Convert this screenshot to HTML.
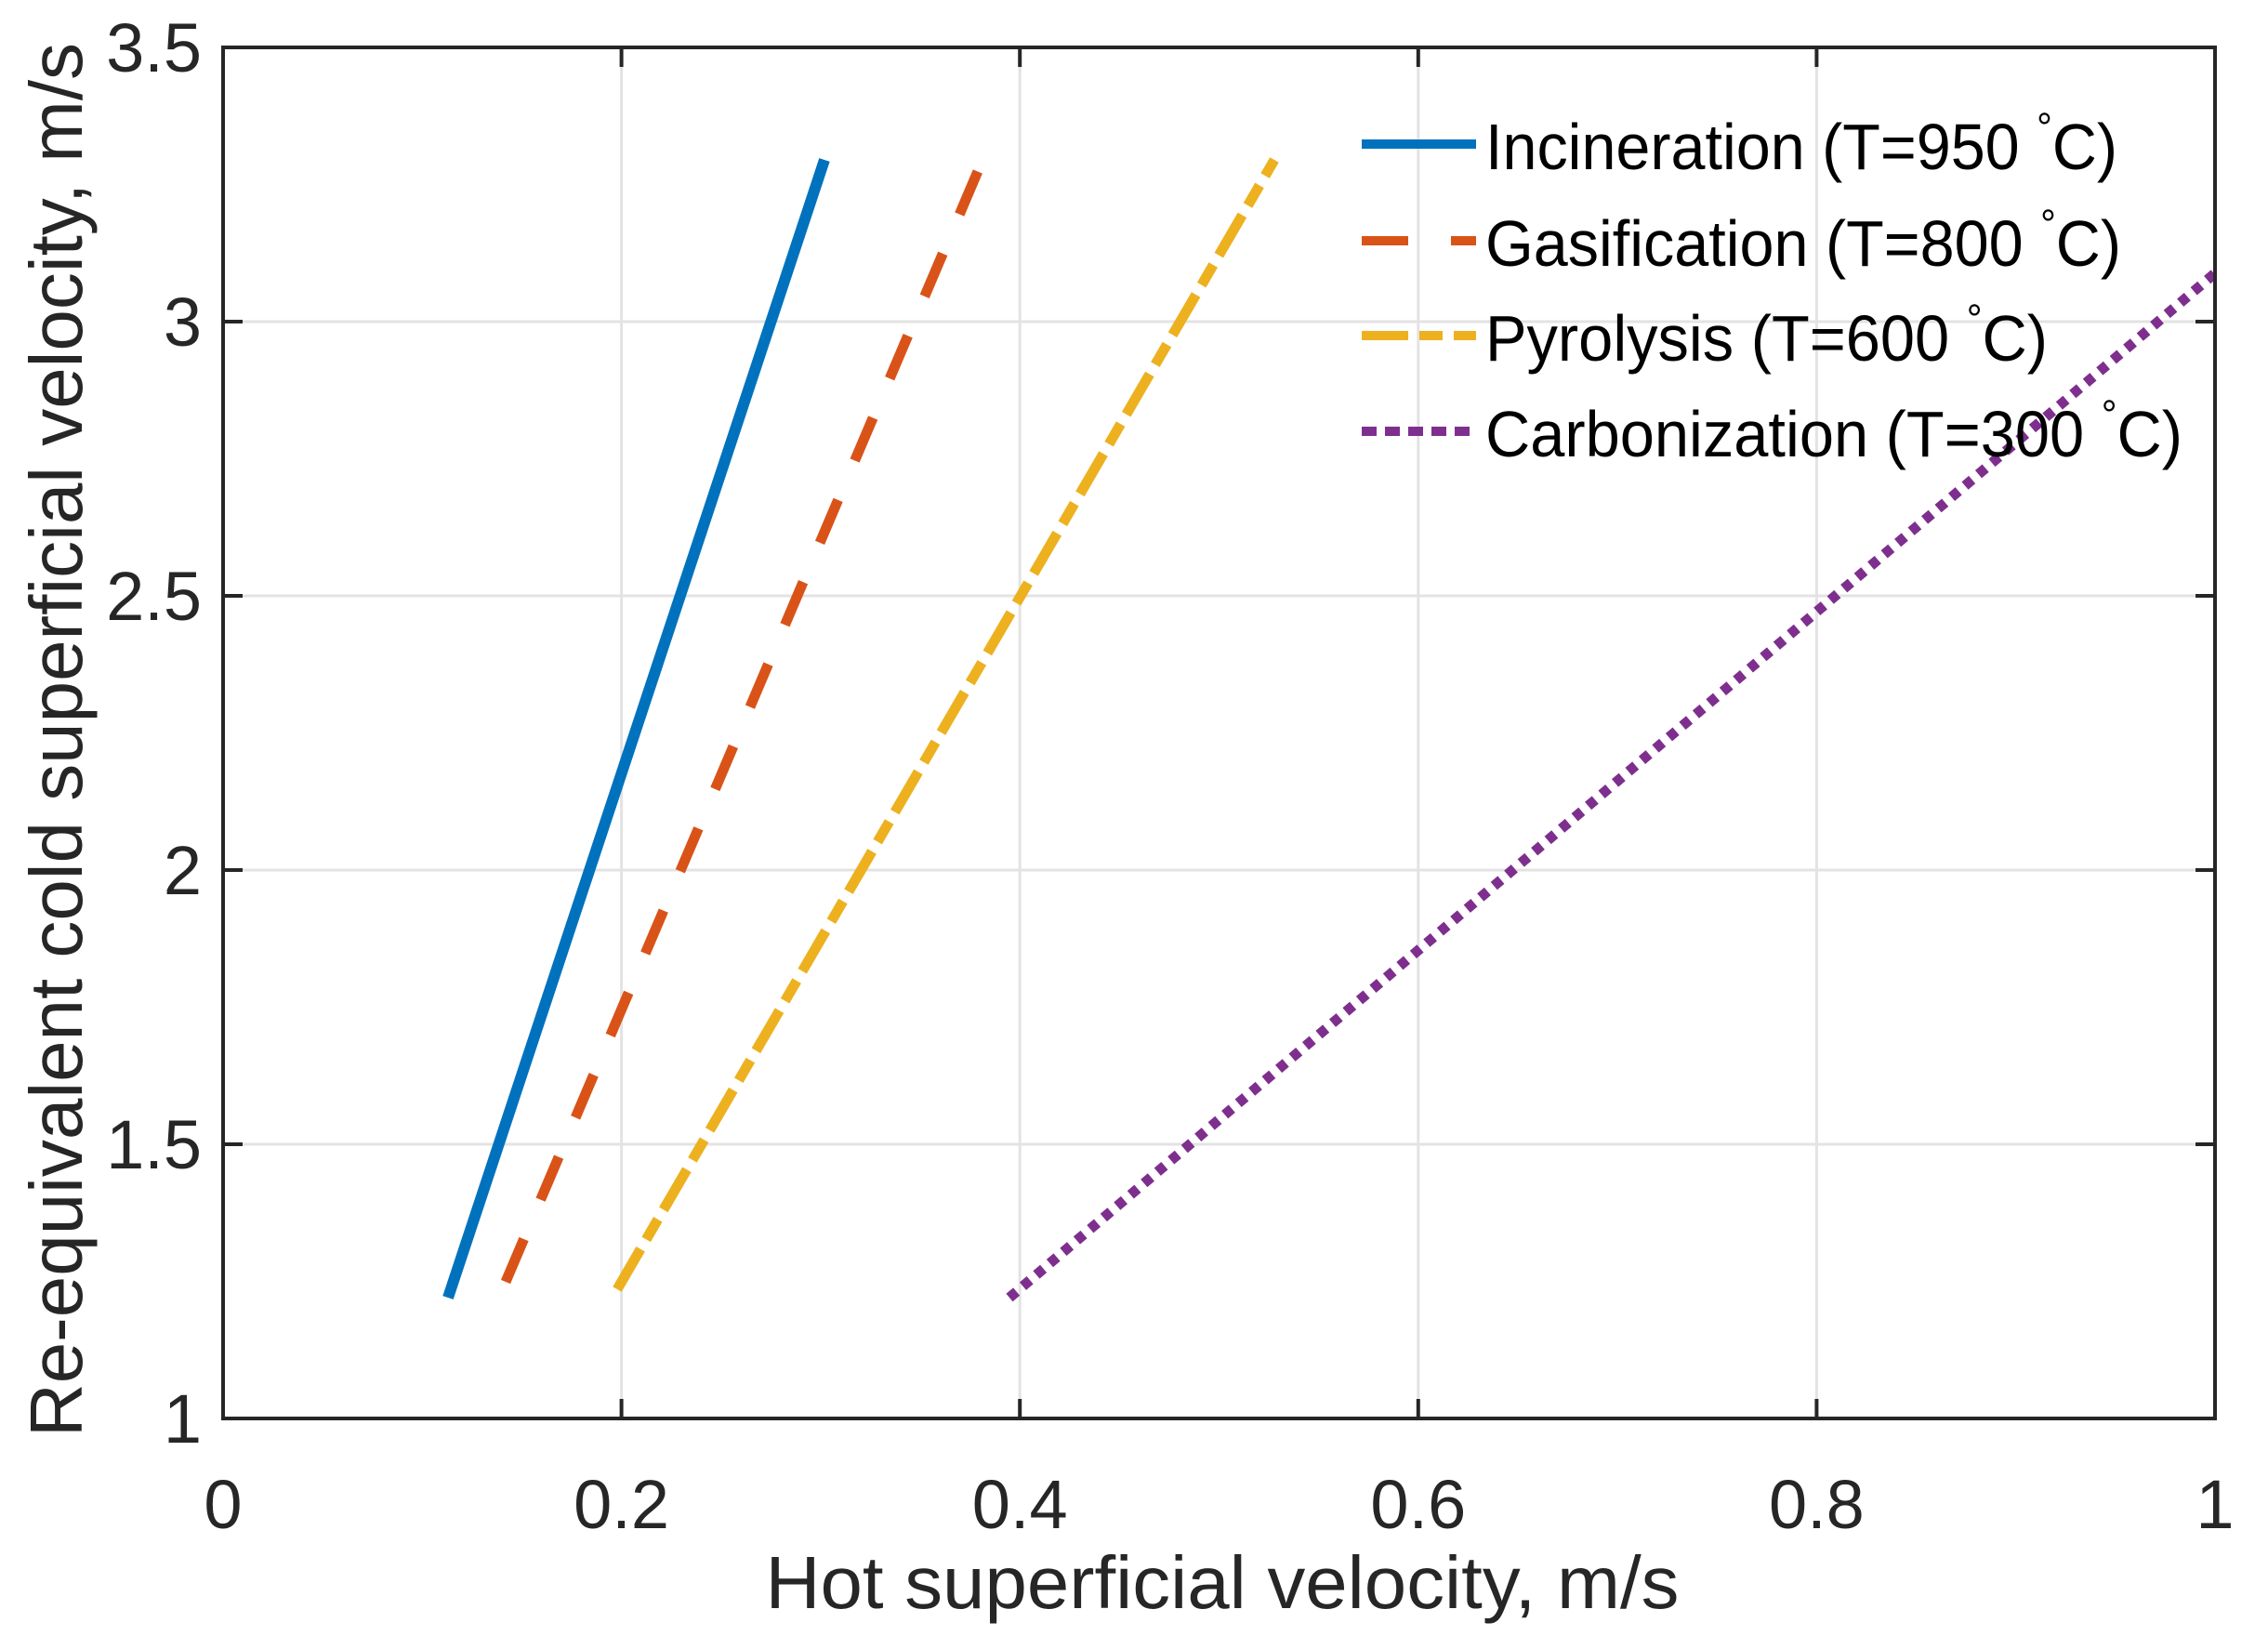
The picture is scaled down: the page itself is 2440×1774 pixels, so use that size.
<!DOCTYPE html>
<html><head><meta charset="utf-8"><style>body{margin:0;background:#fff}svg{display:block}</style></head><body>
<svg width="2440" height="1774" xmlns="http://www.w3.org/2000/svg" font-family="Liberation Sans, sans-serif">
<rect width="2440" height="1774" fill="#fff"/>
<defs><clipPath id="c"><rect x="240" y="51" width="2143" height="1475"/></clipPath></defs>
<g stroke="#e3e3e3" stroke-width="3">
<line x1="668.6" y1="51" x2="668.6" y2="1526"/><line x1="1097.2" y1="51" x2="1097.2" y2="1526"/><line x1="1525.8" y1="51" x2="1525.8" y2="1526"/><line x1="1954.4" y1="51" x2="1954.4" y2="1526"/>
<line x1="240" y1="1231" x2="2383" y2="1231"/><line x1="240" y1="936" x2="2383" y2="936"/><line x1="240" y1="641" x2="2383" y2="641"/><line x1="240" y1="346" x2="2383" y2="346"/>
</g>
<g clip-path="url(#c)" fill="none" stroke-width="11">
<line x1="482" y1="1396" x2="887" y2="172" stroke="#0072BD" stroke-width="12"/>
<line x1="544" y1="1379" x2="1058" y2="170" stroke="#D95319" stroke-dasharray="50 46"/>
<line x1="664" y1="1387" x2="1371" y2="172" stroke="#EDB120" stroke-dasharray="50 12 25 12"/>
<line x1="1086" y1="1396" x2="2390" y2="288" stroke="#7E2F8E" stroke-dasharray="10 9"/>
</g>
<g stroke="#262626" stroke-width="4" fill="none">
<rect x="240" y="51" width="2143" height="1475"/>
<path d="M668.6 1526v-21M1097.2 1526v-21M1525.8 1526v-21M1954.4 1526v-21M668.6 51v21M1097.2 51v21M1525.8 51v21M1954.4 51v21M240 1231h21M240 936h21M240 641h21M240 346h21M2383 1231h-21M2383 936h-21M2383 641h-21M2383 346h-21"/>
</g>
<g fill="#262626" font-size="74" text-anchor="middle">
<text x="240" y="1644">0</text><text x="668.6" y="1644">0.2</text><text x="1097.2" y="1644">0.4</text><text x="1525.8" y="1644">0.6</text><text x="1954.4" y="1644">0.8</text><text x="2383" y="1644">1</text>
</g>
<g fill="#262626" font-size="74" text-anchor="end">
<text x="217" y="1552">1</text><text x="217" y="1257">1.5</text><text x="217" y="962">2</text><text x="217" y="667">2.5</text><text x="217" y="372">3</text><text x="217" y="77">3.5</text>
</g>
<text x="1315" y="1730" font-size="80" fill="#262626" text-anchor="middle" textLength="983" lengthAdjust="spacingAndGlyphs">Hot superficial velocity, m/s</text>
<text transform="translate(88,796) rotate(-90)" font-size="80" fill="#262626" text-anchor="middle" textLength="1500" lengthAdjust="spacingAndGlyphs">Re-equivalent cold superficial velocity, m/s</text>
<g stroke-width="10">
<line x1="1465" y1="155" x2="1588" y2="155" stroke="#0072BD"/>
<line x1="1465" y1="259" x2="1588" y2="259" stroke="#D95319" stroke-dasharray="50 46"/>
<line x1="1465" y1="361" x2="1588" y2="361" stroke="#EDB120" stroke-dasharray="50 12 25 12"/>
<line x1="1465" y1="464" x2="1588" y2="464" stroke="#7E2F8E" stroke-dasharray="16 9"/>
</g>
<g fill="#000" font-size="70">
<text x="1598" y="182" textLength="680" lengthAdjust="spacingAndGlyphs">Incineration (T=950 <tspan dy="-30" font-size="44">°</tspan><tspan dy="30">C)</tspan></text>
<text x="1598" y="286" textLength="684" lengthAdjust="spacingAndGlyphs">Gasification (T=800 <tspan dy="-30" font-size="44">°</tspan><tspan dy="30">C)</tspan></text>
<text x="1598" y="388" textLength="605" lengthAdjust="spacingAndGlyphs">Pyrolysis (T=600 <tspan dy="-30" font-size="44">°</tspan><tspan dy="30">C)</tspan></text>
<text x="1598" y="491" textLength="750" lengthAdjust="spacingAndGlyphs">Carbonization (T=300 <tspan dy="-30" font-size="44">°</tspan><tspan dy="30">C)</tspan></text>
</g>
</svg>
</body></html>
